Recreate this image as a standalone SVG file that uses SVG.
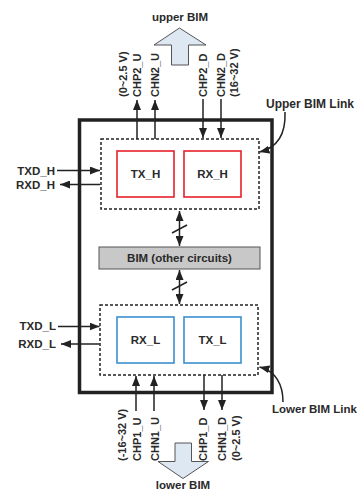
<svg xmlns="http://www.w3.org/2000/svg" width="360" height="493" viewBox="0 0 360 493">
<defs>
<marker id="ah" viewBox="0 0 10 8" refX="10" refY="4" markerWidth="10" markerHeight="8" orient="auto-start-reverse" markerUnits="userSpaceOnUse"><path d="M0,0 L10,4 L0,8 z" fill="#222"/></marker>
<style>
text{font-family:"Liberation Sans",Arial,sans-serif;font-weight:bold;fill:#2a2a2a}
.t{font-size:11.5px}
.k{font-size:12px}
.r{font-size:11px}
.c{stroke:#222;stroke-width:1.5;fill:none}
.a{marker-end:url(#ah)}
.d{marker-start:url(#ah);marker-end:url(#ah)}
.dash{fill:none;stroke:#222;stroke-width:1.5;stroke-dasharray:3 2}
.red{fill:#fff;stroke:#e8202a;stroke-width:1.6}
.blue{fill:#fff;stroke:#3a8fd0;stroke-width:1.6}
.blk{fill:#dde8f3;stroke:#555;stroke-width:1}
</style>
</defs>
<rect width="360" height="493" fill="#fff"/>
<g id="outer"><rect x="79.5" y="120" width="192.5" height="272.5" fill="none" stroke="#222" stroke-width="3.5"/></g>
<g id="upperLink"><rect class="dash" x="101" y="139" width="158" height="70"/></g>
<g id="lowerLink"><rect class="dash" x="100" y="305" width="158" height="70"/></g>
<g id="txh"><rect class="red" x="117" y="151" width="57" height="46"/><text class="t" x="145.5" y="178" text-anchor="middle">TX_H</text></g>
<g id="rxh"><rect class="red" x="184" y="151" width="57" height="46"/><text class="t" x="212.5" y="178" text-anchor="middle">RX_H</text></g>
<g id="rxl"><rect class="blue" x="117" y="317" width="57" height="46"/><text class="t" x="145.5" y="344" text-anchor="middle">RX_L</text></g>
<g id="txl"><rect class="blue" x="184" y="317" width="57" height="46"/><text class="t" x="212.5" y="344" text-anchor="middle">TX_L</text></g>
<g id="bim"><rect x="99" y="247" width="161" height="22" fill="#c8c8c8" stroke="#555" stroke-width="1"/><text class="t" x="179.5" y="262" text-anchor="middle">BIM (other circuits)</text></g>
<g id="upperBIM"><path class="blk" d="M171.5,65 L171.5,45 L154,45 L179.5,28 L206,45 L188.5,45 L188.5,65 Z"/><text class="t" x="180" y="21" text-anchor="middle">upper BIM</text></g>
<g id="lowerBIM"><path class="blk" d="M175,443 L191.5,443 L191.5,461.5 L208.5,461.5 L183,478.5 L158,461.5 L175,461.5 Z"/><text class="t" x="183" y="489" text-anchor="middle">lower BIM</text></g>
<g id="connectors">
<line class="c a" x1="137" y1="139" x2="137" y2="100"/>
<line class="c a" x1="155" y1="139" x2="155" y2="100"/>
<line class="c a" x1="203" y1="99" x2="203" y2="138"/>
<line class="c a" x1="221" y1="99" x2="221" y2="138"/>
<line class="c a" x1="136" y1="411" x2="136" y2="376"/>
<line class="c a" x1="154" y1="411" x2="154" y2="376"/>
<line class="c a" x1="204" y1="375" x2="204" y2="410"/>
<line class="c a" x1="222" y1="375" x2="222" y2="410"/>
<line class="c a" x1="57" y1="170.5" x2="100" y2="170.5"/>
<line class="c a" x1="100" y1="184.5" x2="60" y2="184.5"/>
<line class="c a" x1="58" y1="326.5" x2="99.5" y2="326.5"/>
<line class="c a" x1="99.5" y1="344" x2="61" y2="344"/>
<line class="c d" x1="179.5" y1="211" x2="179.5" y2="246"/>
<line class="c" x1="172" y1="233" x2="187" y2="225"/>
<line class="c d" x1="179.5" y1="270" x2="179.5" y2="304"/>
<line class="c" x1="172" y1="290" x2="187" y2="282"/>
<path class="c a" d="M285,112 C286,136 276,148 259.5,152"/>
<path class="c a" d="M283,402 C283,385 276,371 259.5,367"/>
</g>
<g id="labels">
<text class="t" x="55" y="174.5" text-anchor="end">TXD_H</text>
<text class="t" x="55" y="189" text-anchor="end">RXD_H</text>
<text class="t" x="56" y="330" text-anchor="end">TXD_L</text>
<text class="t" x="56" y="347.5" text-anchor="end">RXD_L</text>
<text class="k" x="266" y="108">Upper BIM Link</text>
<text class="t" x="272" y="413">Lower BIM Link</text>
<text class="r" transform="translate(127,97) rotate(-90)">(0~2.5 V)</text>
<text class="r" transform="translate(140.5,97) rotate(-90)">CHP2_U</text>
<text class="r" transform="translate(158.5,97) rotate(-90)">CHN2_U</text>
<text class="r" transform="translate(207,97) rotate(-90)">CHP2_D</text>
<text class="r" transform="translate(224.5,97) rotate(-90)">CHN2_D</text>
<text class="r" transform="translate(238,97) rotate(-90)">(16~32 V)</text>
<text class="r" transform="translate(126,461) rotate(-90)">(-16~32 V)</text>
<text class="r" transform="translate(140.5,461) rotate(-90)">CHP1_U</text>
<text class="r" transform="translate(158.5,461) rotate(-90)">CHN1_U</text>
<text class="r" transform="translate(207,461) rotate(-90)">CHP1_D</text>
<text class="r" transform="translate(225.5,461) rotate(-90)">CHN1_D</text>
<text class="r" transform="translate(239.5,461) rotate(-90)">(0~2.5 V)</text>
</g>
</svg>
